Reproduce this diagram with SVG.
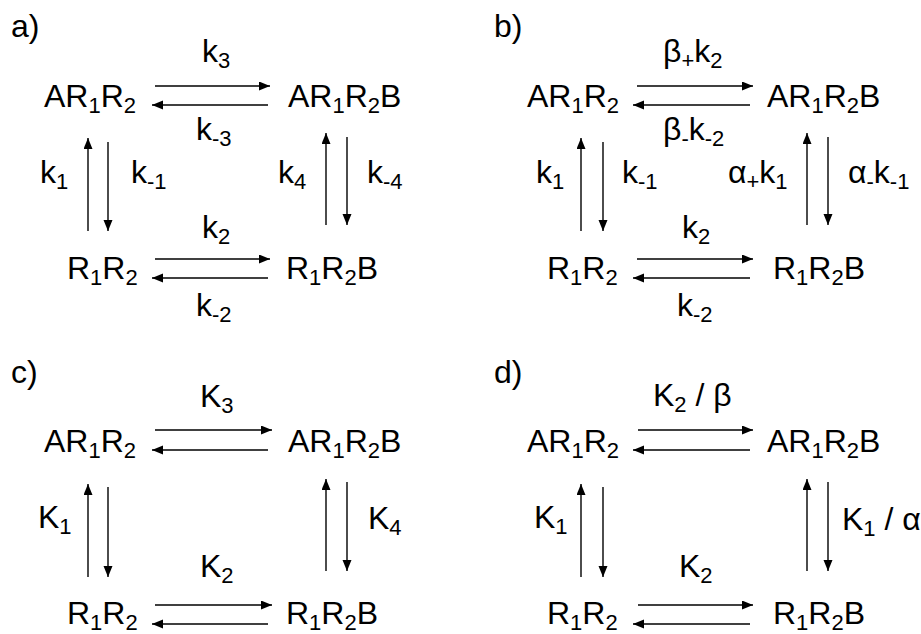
<svg xmlns="http://www.w3.org/2000/svg" width="921" height="634" viewBox="0 0 921 634">
<style>
text{font-family:"Liberation Sans",Arial,sans-serif;font-size:32px;fill:#000}
.s{font-size:22px}
.c line{stroke:#000;stroke-width:1.4;marker-end:url(#ah)}
</style>
<defs>
<marker id="ah" markerUnits="userSpaceOnUse" markerWidth="12" markerHeight="10" refX="11" refY="4.5" orient="auto">
<path d="M0,0 L11,4.5 L0,9 Z" fill="#000"/>
</marker>
</defs>
<rect width="921" height="634" fill="#fff"/>

<!-- panel labels -->
<text x="11" y="37">a)</text>
<text x="494" y="37">b)</text>
<text x="11" y="383">c)</text>
<text x="494" y="383">d)</text>

<!-- panel a -->
<g id="a_AR1R2"><text x="44" y="107">AR<tspan class="s" dy="6">1</tspan><tspan dy="-6">R</tspan><tspan class="s" dy="6">2</tspan></text></g>
<g id="a_AR1R2B"><text x="288" y="107">AR<tspan class="s" dy="6">1</tspan><tspan dy="-6">R</tspan><tspan class="s" dy="6">2</tspan><tspan dy="-6">B</tspan></text></g>
<g id="a_R1R2"><text x="67" y="279">R<tspan class="s" dy="6">1</tspan><tspan dy="-6">R</tspan><tspan class="s" dy="6">2</tspan></text></g>
<g id="a_R1R2B"><text x="286" y="279">R<tspan class="s" dy="6">1</tspan><tspan dy="-6">R</tspan><tspan class="s" dy="6">2</tspan><tspan dy="-6">B</tspan></text></g>

<!-- panel b -->
<g id="b_AR1R2"><text x="527" y="107">AR<tspan class="s" dy="6">1</tspan><tspan dy="-6">R</tspan><tspan class="s" dy="6">2</tspan></text></g>
<g id="b_AR1R2B"><text x="767" y="107">AR<tspan class="s" dy="6">1</tspan><tspan dy="-6">R</tspan><tspan class="s" dy="6">2</tspan><tspan dy="-6">B</tspan></text></g>
<g id="b_R1R2"><text x="547" y="279">R<tspan class="s" dy="6">1</tspan><tspan dy="-6">R</tspan><tspan class="s" dy="6">2</tspan></text></g>
<g id="b_R1R2B"><text x="773" y="279">R<tspan class="s" dy="6">1</tspan><tspan dy="-6">R</tspan><tspan class="s" dy="6">2</tspan><tspan dy="-6">B</tspan></text></g>

<!-- panel c -->
<g id="c_AR1R2"><text x="44" y="452">AR<tspan class="s" dy="6">1</tspan><tspan dy="-6">R</tspan><tspan class="s" dy="6">2</tspan></text></g>
<g id="c_AR1R2B"><text x="288" y="452">AR<tspan class="s" dy="6">1</tspan><tspan dy="-6">R</tspan><tspan class="s" dy="6">2</tspan><tspan dy="-6">B</tspan></text></g>
<g id="c_R1R2"><text x="67" y="624">R<tspan class="s" dy="6">1</tspan><tspan dy="-6">R</tspan><tspan class="s" dy="6">2</tspan></text></g>
<g id="c_R1R2B"><text x="286" y="624">R<tspan class="s" dy="6">1</tspan><tspan dy="-6">R</tspan><tspan class="s" dy="6">2</tspan><tspan dy="-6">B</tspan></text></g>

<!-- panel d -->
<g id="d_AR1R2"><text x="527" y="452">AR<tspan class="s" dy="6">1</tspan><tspan dy="-6">R</tspan><tspan class="s" dy="6">2</tspan></text></g>
<g id="d_AR1R2B"><text x="767" y="452">AR<tspan class="s" dy="6">1</tspan><tspan dy="-6">R</tspan><tspan class="s" dy="6">2</tspan><tspan dy="-6">B</tspan></text></g>
<g id="d_R1R2"><text x="547" y="624">R<tspan class="s" dy="6">1</tspan><tspan dy="-6">R</tspan><tspan class="s" dy="6">2</tspan></text></g>
<g id="d_R1R2B"><text x="773" y="624">R<tspan class="s" dy="6">1</tspan><tspan dy="-6">R</tspan><tspan class="s" dy="6">2</tspan><tspan dy="-6">B</tspan></text></g>

<!-- connectors -->
<g id="connectors" class="c">
<!-- a -->
<line x1="155" y1="86" x2="270" y2="86"/>
<line x1="268" y1="105" x2="152" y2="105"/>
<line x1="155" y1="259" x2="270" y2="259"/>
<line x1="268" y1="278" x2="152" y2="278"/>
<line x1="88" y1="231" x2="88" y2="138"/>
<line x1="108" y1="142" x2="108" y2="231"/>
<line x1="326" y1="225" x2="326" y2="133"/>
<line x1="347" y1="137" x2="347" y2="225"/>
<!-- b -->
<line x1="637" y1="86" x2="753" y2="86"/>
<line x1="750" y1="105" x2="633" y2="105"/>
<line x1="637" y1="259" x2="753" y2="259"/>
<line x1="750" y1="278" x2="633" y2="278"/>
<line x1="581" y1="231" x2="581" y2="138"/>
<line x1="603" y1="142" x2="603" y2="231"/>
<line x1="807" y1="225" x2="807" y2="133"/>
<line x1="828" y1="137" x2="828" y2="225"/>
<!-- c -->
<line x1="155" y1="430" x2="272" y2="430"/>
<line x1="268" y1="450" x2="152" y2="450"/>
<line x1="155" y1="605" x2="272" y2="605"/>
<line x1="268" y1="624" x2="152" y2="624"/>
<line x1="88" y1="577" x2="88" y2="484"/>
<line x1="108" y1="487" x2="108" y2="577"/>
<line x1="326" y1="571" x2="326" y2="479"/>
<line x1="347" y1="482" x2="347" y2="571"/>
<!-- d -->
<line x1="638" y1="430" x2="753" y2="430"/>
<line x1="750" y1="450" x2="633" y2="450"/>
<line x1="638" y1="605" x2="753" y2="605"/>
<line x1="750" y1="624" x2="633" y2="624"/>
<line x1="581" y1="577" x2="581" y2="484"/>
<line x1="603" y1="487" x2="603" y2="577"/>
<line x1="807" y1="571" x2="807" y2="479"/>
<line x1="828" y1="482" x2="828" y2="571"/>
</g>

<g id="labels">
<text x="202" y="62">k<tspan class="s" dy="6">3</tspan></text>
<text x="196" y="140">k<tspan class="s" dy="6">-3</tspan></text>
<text x="40" y="183">k<tspan class="s" dy="6">1</tspan></text>
<text x="131" y="183">k<tspan class="s" dy="6">-1</tspan></text>
<text x="278" y="183">k<tspan class="s" dy="6">4</tspan></text>
<text x="367" y="183">k<tspan class="s" dy="6">-4</tspan></text>
<text x="202" y="238">k<tspan class="s" dy="6">2</tspan></text>
<text x="196" y="316">k<tspan class="s" dy="6">-2</tspan></text>

<text x="663" y="62">β<tspan class="s" dy="6">+</tspan><tspan dy="-6">k</tspan><tspan class="s" dy="6">2</tspan></text>
<text x="663" y="140">β<tspan class="s" dy="6">-</tspan><tspan dy="-6">k</tspan><tspan class="s" dy="6">-2</tspan></text>
<text x="536" y="183">k<tspan class="s" dy="6">1</tspan></text>
<text x="622" y="183">k<tspan class="s" dy="6">-1</tspan></text>
<text x="728" y="183">α<tspan class="s" dy="6">+</tspan><tspan dy="-6">k</tspan><tspan class="s" dy="6">1</tspan></text>
<text x="848" y="183">α<tspan class="s" dy="6">-</tspan><tspan dy="-6">k</tspan><tspan class="s" dy="6">-1</tspan></text>
<text x="682" y="238">k<tspan class="s" dy="6">2</tspan></text>
<text x="677" y="316">k<tspan class="s" dy="6">-2</tspan></text>

<text x="200" y="407">K<tspan class="s" dy="6">3</tspan></text>
<text x="38" y="528">K<tspan class="s" dy="6">1</tspan></text>
<text x="368" y="529">K<tspan class="s" dy="6">4</tspan></text>
<text x="200" y="577">K<tspan class="s" dy="6">2</tspan></text>

<text x="653" y="406">K<tspan class="s" dy="6">2</tspan><tspan dy="-6"> / β</tspan></text>
<text x="534" y="528">K<tspan class="s" dy="6">1</tspan></text>
<text x="842" y="530">K<tspan class="s" dy="6">1</tspan><tspan dy="-6"> / α</tspan></text>
<text x="679" y="577">K<tspan class="s" dy="6">2</tspan></text>
</g>
</svg>
